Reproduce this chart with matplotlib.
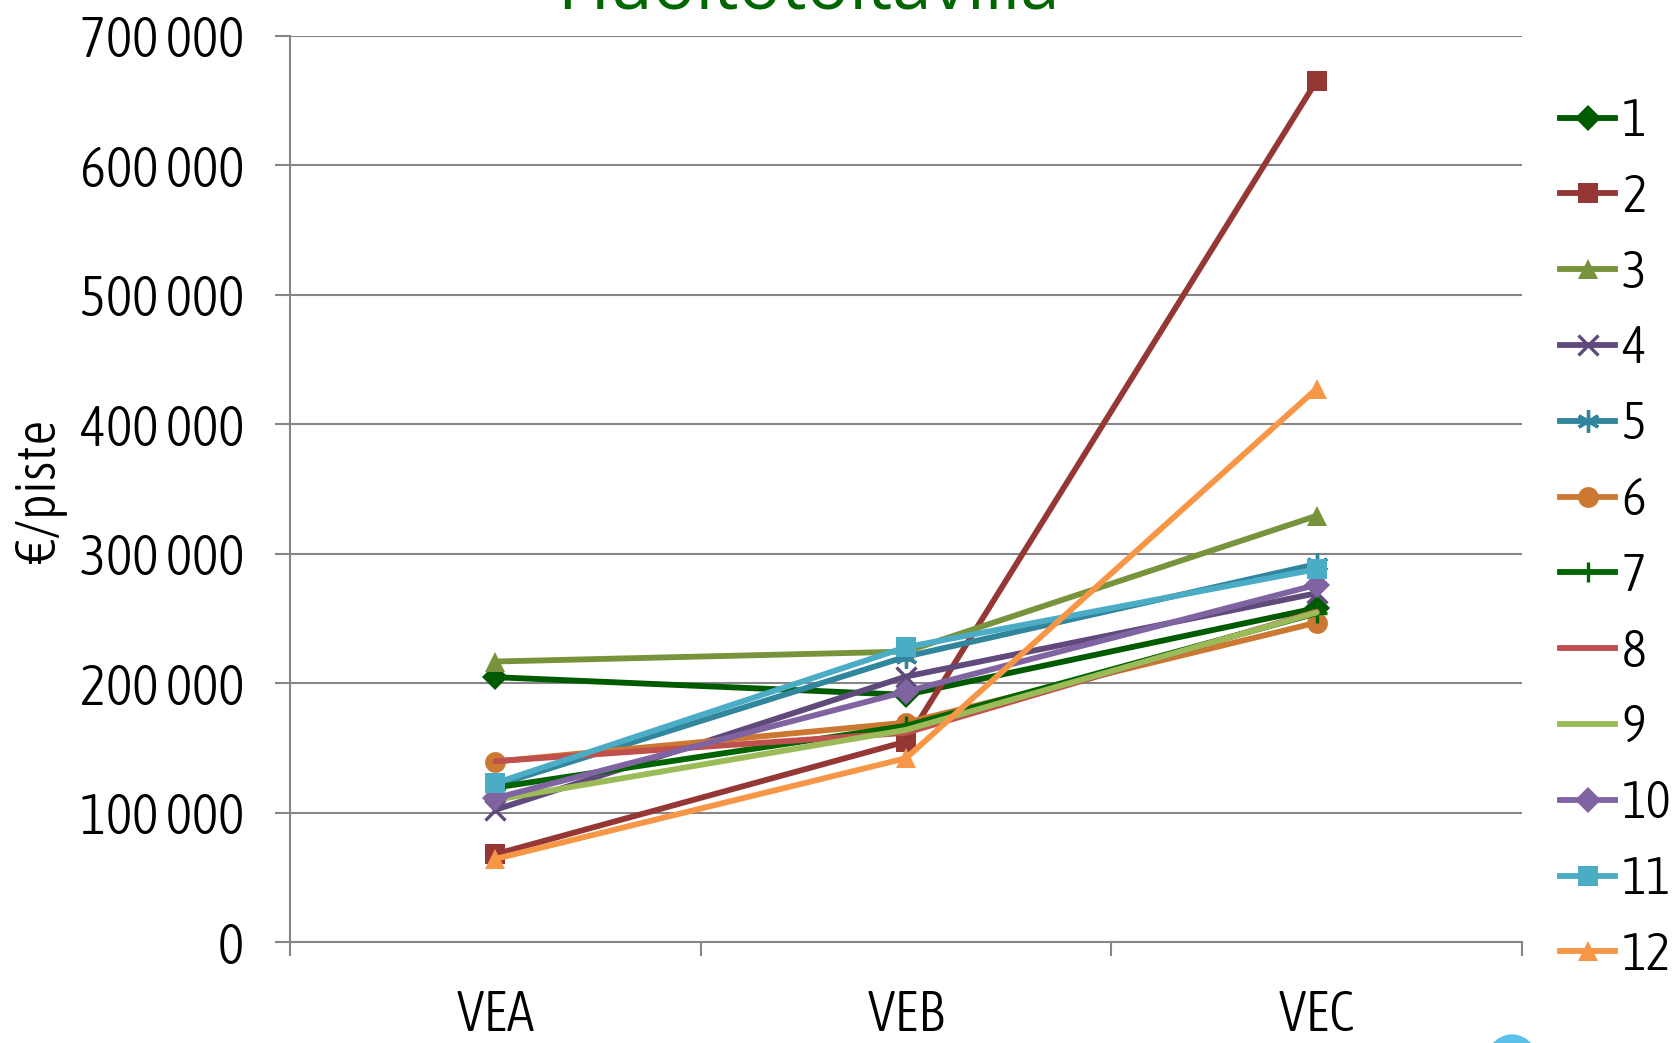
import matplotlib
matplotlib.use("Agg")
import matplotlib.pyplot as plt
from matplotlib import font_manager
from matplotlib.lines import Line2D
from matplotlib.patches import Ellipse

# ---------------- data ----------------
categories = ["VEA", "VEB", "VEC"]
series_names = ["1", "2", "3", "4", "5", "6", "7", "8", "9", "10", "11", "12"]
s1 = [204600, 191000, 258000]
s2 = [67800, 154900, 665400]
s3 = [216700, 224400, 329300]
s4 = [102100, 205100, 269500]
s5 = [121000, 220500, 292000]
s6 = [139400, 169500, 246800]
s7 = [119300, 167000, 254000]
s8 = [139700, 161600, 255300]
s9 = [109800, 163900, 254600]
s10 = [111100, 193500, 276000]
s11 = [122700, 227800, 288100]
s12 = [64200, 142000, 427500]
all_series = [s1, s2, s3, s4, s5, s6, s7, s8, s9, s10, s11, s12]
y_ticks = [0, 100000, 200000, 300000, 400000, 500000, 600000, 700000]
y_label = "€/piste"
title_text = "Huoltotoitavilla"

colors = ["#005A00", "#953735", "#77933C", "#604A7B", "#31859C", "#CC7832",
          "#006400", "#C0504D", "#9BBB59", "#8064A2", "#4BACC6", "#F79646"]
markers = ["D", "s", "^", "x", (6, 2, 0), "o", "+", None, None, "D", "s", "^"]
msizes = [13, 14, 15, 14, 16, 15, 15, 0, 0, 13, 14, 15]

# ---------------- fonts ----------------
cands = ["Liberation Sans Narrow", "DejaVu Sans Condensed", "Open Sans Condensed",
         "Roboto Condensed", "Noto Sans Condensed"]
entries = [f for f in font_manager.fontManager.ttflist
           if f.name in cands or 'ondensed' in str(f.stretch) or 'narrow' in f.name.lower()]
def wnum(w):
    try:
        return int(w)
    except Exception:
        return {'light': 300, 'normal': 400, 'regular': 400, 'bold': 700}.get(str(w), 400)
entries = [f for f in entries if f.style == 'normal']
entries.sort(key=lambda f: abs(wnum(f.weight) - 330))
if entries:
    fp = font_manager.FontProperties(fname=entries[0].fname)
else:
    fp = font_manager.FontProperties(family='DejaVu Sans')

def F(size):
    p = fp.copy()
    p.set_size(size)
    return p

W, H = 1675, 1043
fig = plt.figure(figsize=(W / 100, H / 100), dpi=100)
left, right, top, bottom = 290, 1522, 36, 942
ax = fig.add_axes([left / W, 1 - bottom / H, (right - left) / W, (bottom - top) / H])

LW = 4.2
x = list(range(len(categories)))
for vals, c, m, ms in zip(all_series, colors, markers, msizes):
    ax.plot(x, vals, color=c, lw=LW, marker=m, markersize=ms,
            markeredgewidth=2.4 if m in ("x", "+", (6, 2, 0)) else 0,
            markeredgecolor=c, markerfacecolor=c, solid_capstyle='round',
            zorder=3)

ax.set_xlim(-0.5, len(categories) - 0.5)
ax.set_ylim(0, 700000)
ax.set_yticks(y_ticks)
ax.set_yticklabels([f"{v:,}".replace(",", " ") for v in y_ticks], fontproperties=F(40))
ax.set_xticks(x)
ax.set_xticklabels(categories, fontproperties=F(40))
ax.set_xticks([i - 0.5 for i in range(len(categories) + 1)], minor=True)

ax.grid(axis='y', color='#868686', lw=1.5, zorder=0)
for s in ["top", "right"]:
    ax.spines[s].set_visible(False)
for s in ["left", "bottom"]:
    ax.spines[s].set_color('#868686')
    ax.spines[s].set_linewidth(1.5)

ax.tick_params(axis='y', length=11, width=1.5, color='#868686', pad=22,
               labelcolor='black')
ax.tick_params(axis='x', which='major', length=0, pad=33)
ax.tick_params(axis='x', which='minor', length=10, width=1.5, color='#868686')

fig.text(40 / W, 1 - 491 / H, y_label, rotation=90, ha='center', va='center',
         fontproperties=F(40))

fig.text(808 / W, 1 - 10 / H, title_text, ha='center', va='baseline',
         fontsize=51, color='#006600', family=['Open Sans', 'DejaVu Sans'])

handles = [Line2D([0], [0], color=c, lw=LW, marker=m, markersize=ms,
                  markeredgewidth=2.4 if m in ("x", "+", (6, 2, 0)) else 0,
                  markeredgecolor=c, markerfacecolor=c)
           for c, m, ms in zip(colors, markers, msizes)]
leg = fig.legend(handles, series_names, loc='upper left',
                 bbox_to_anchor=(1560 / W, 1 - 96 / H), frameon=False,
                 prop=F(38), handlelength=1.05, handletextpad=0.12,
                 labelspacing=0.47, borderaxespad=0, borderpad=0)

fig.add_artist(Ellipse((1512 / W, 1 - 1075 / H), 60 / W, 80 / H,
                       transform=fig.transFigure, color='#5BC0EB', zorder=0))

fig.savefig("out.png", dpi=100)
